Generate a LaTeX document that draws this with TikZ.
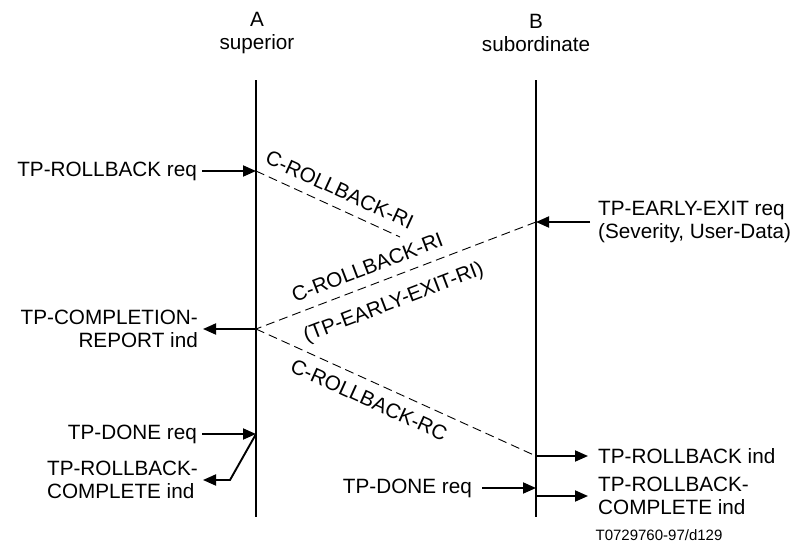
\documentclass[tikz,border=0pt]{standalone}
\usepackage{fontspec}
\setmainfont{Liberation Sans}
\usetikzlibrary{positioning, arrows.meta}
\tikzset{
  lifeLine/.style={
    line width=2.3pt
  },
  primArrow/.style={
    -{Triangle[length=13pt,width=11pt]},
    line width=1.9pt
  },
  pduLine/.style={
    dash pattern=on 9pt off 5pt,
    line width=0.9pt
  },
  primText/.style={
    font=\fontsize{20.7}{22.5}\selectfont,
    inner xsep=5pt,
    inner ysep=0pt
  },
  primTextFar/.style={
    primText,
    inner xsep=10pt
  },
  pduText/.style={
    font=\fontsize{20.7}{22.5}\selectfont,
    sloped,
    inner sep=10pt
  },
  figRef/.style={
    font=\fontsize{15}{17}\selectfont,
    inner sep=0pt
  }
}
\begin{document}
\begin{tikzpicture}[x=1pt, y=-1pt]
      \useasboundingbox (0,0) rectangle (803,549);

      \node[primText, align=center] (hdA) at (257,33) {A\\superior};
      \node[primText, align=center] (hdB) at (536,33) {B\\subordinate};

      \coordinate (aTop) at (256,80);
      \coordinate (aBot) at (256,517);
      \coordinate (bTop) at (536,80);
      \coordinate (bBot) at (536,517);
      \draw[lifeLine] (aTop) -- (aBot);
      \draw[lifeLine] (bTop) -- (bBot);

      \coordinate (a1) at (256,171);
      \coordinate (a2) at (256,329);
      \coordinate (a3) at (256,434);
      \coordinate (b1) at (536,222);
      \coordinate (b2) at (536,456);
      \coordinate (b3) at (536,488);
      \coordinate (b4) at (536,496);
      \coordinate (rbStop) at (400,237);
      \coordinate (bendA) at (230,480);

      \node[primText, anchor=east] (rbReq) at (202,171) {TP-ROLLBACK req};
      \node[primText, anchor=east, align=right] (complInd) at (203,329) {TP-COMPLETION-\\REPORT ind};
      \node[primText, anchor=east] (doneReqA) at (202,434) {TP-DONE req};
      \node[primText, anchor=east, align=left] (rbCompA) at (203,480) {TP-ROLLBACK-\\COMPLETE ind};
      \node[primTextFar, anchor=west, inner xsep=8pt, align=left] (exitReq) at (590,222) {TP-EARLY-EXIT req\\(Severity, User-Data)};
      \node[primTextFar, anchor=west] (rbInd) at (588,456) {TP-ROLLBACK ind};
      \node[primTextFar, anchor=west, align=left] (rbCompB) at (588,496) {TP-ROLLBACK-\\COMPLETE ind};
      \node[primTextFar, anchor=east] (doneReqB) at (482,488) {TP-DONE req};
      \node[figRef] (figNo) at (659,535) {T0729760-97/d129};

      \draw[primArrow] (rbReq.east) -- (a1);
      \draw[primArrow] (exitReq.west) -- (b1);
      \draw[primArrow] (a2) -- (complInd.east);
      \draw[primArrow] (doneReqA.east) -- (a3);
      \draw[primArrow] (a3) -- (bendA) -- (rbCompA.east);
      \draw[primArrow] (b2) -- (rbInd.west);
      \draw[primArrow] (doneReqB.east) -- (b3);
      \draw[primArrow] (b4) -- (rbCompB.west);

      \draw[pduLine] (a1) -- node[pduText, above, pos=0.53] {C-ROLLBACK-RI} (rbStop);
      \draw[pduLine] (b1) -- node[pduText, above, pos=0.58] {C-ROLLBACK-RI}
                            node[pduText, below, pos=0.54, inner sep=15pt] {(TP-EARLY-EXIT-RI)} (a2);
      \draw[pduLine] (a2) -- node[pduText, below, pos=0.43] {C-ROLLBACK-RC} (b2);
    \end{tikzpicture}
\end{document}
